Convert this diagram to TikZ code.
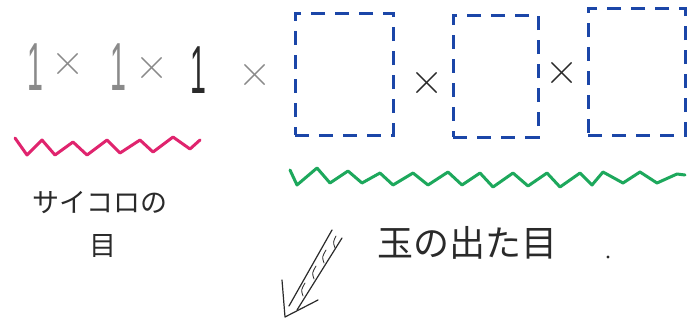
\documentclass[tikz,border=0pt]{standalone}
\usepackage{fontspec}
\newfontfamily\jp{Noto Sans CJK JP}
\newfontfamily\numf{Liberation Sans}
\definecolor{pencil}{HTML}{8A8A8A}
\definecolor{ink}{HTML}{2A2A2A}
\definecolor{penblue}{HTML}{1B46A8}
\definecolor{penpink}{HTML}{E0246E}
\definecolor{pengreen}{HTML}{1DA85C}
\newcommand{\narrow}[1]{\scalebox{0.42}[1]{\fontsize{68}{68}\selectfont\numf #1}}
\tikzset{
  num/.style={text=pencil, inner sep=0pt, anchor=base},
  tim/.style={text=pencil, font=\fontsize{46}{46}\selectfont\rmfamily, inner sep=0pt},
  dbox/.style={draw=penblue, line width=3pt, dash pattern=on 14pt off 10pt, inner sep=0pt},
  wave/.style={line width=3pt, line join=round, line cap=round},
  jtext/.style={text=ink, inner sep=0pt, align=center},
  arr/.style={draw=ink, line width=1.2pt, line cap=round, line join=round}
}
\begin{document}
\begin{tikzpicture}[x=1pt,y=-1pt]
\useasboundingbox[fill=white] (0,0) rectangle (689,322);
% numbers and times signs
\node[num] (n1) at (35,90) {\narrow{1}};
\node[tim] (t1) at (68,64) {×};
\node[num] (n2) at (118,90) {\narrow{1}};
\node[tim] (t2) at (152,68) {×};
\node[num, text=ink] (n3) at (198,93) {\narrow{1}};
\node[tim] (t3) at (255,75) {×};
% dashed boxes
\node[dbox, minimum width=98, minimum height=122] (b1) at (344,74) {};
\node[tim, text=ink] (t4) at (427,83) {×};
\node[dbox, minimum width=85, minimum height=122] (b2) at (495.5,76) {};
\node[tim, text=ink] (t5) at (562,73) {×};
\node[dbox, minimum width=97, minimum height=127] (b3) at (636.5,71.5) {};
% wavy underlines
\draw[wave, penpink] plot coordinates {(15,138) (27,155) (42,140) (55,155) (73,142) (87,155) (107,140) (120,153) (140,140) (153,152) (173,137) (190,149) (200,140)};
\draw[wave, pengreen] plot coordinates {(290,170) (297,185) (317,168) (330,183) (348,171) (362,183) (380,173) (393,185) (413,173) (428,185) (448,172) (462,185) (480,173) (493,187) (513,173) (528,186) (547,173) (560,187) (580,173) (592,185) (603,172) (623,183) (640,172) (657,183) (677,174) (685,175)};
% labels
\node[jtext, font=\fontsize{27}{27}\selectfont\jp] (l1) at (100,203) {サイコロの};
\node[jtext, font=\fontsize{27}{27}\selectfont\jp] (l2) at (103,246) {目};
\node[jtext, font=\fontsize{36}{36}\selectfont\jp] (l3) at (467,243) {玉の出た目};
\fill[ink] (608,257) circle (1.6);
% hollow hatched arrow
\coordinate (tip) at (285,317);
\draw[arr] (332,230) -- (289,306);
\draw[arr] (342,238) -- (297,310);
\draw[arr] (282,280) -- (tip) -- (318,300);
\draw[arr, line width=0.8pt] (336,236) .. controls (333,242) .. (335,248);
\draw[arr, line width=0.8pt] (326,250) .. controls (322,257) .. (324,263);
\draw[arr, line width=0.8pt] (316,266) .. controls (312,273) .. (314,279);
\draw[arr, line width=0.8pt] (305,283) .. controls (301,290) .. (303,296);
\end{tikzpicture}
\end{document}
